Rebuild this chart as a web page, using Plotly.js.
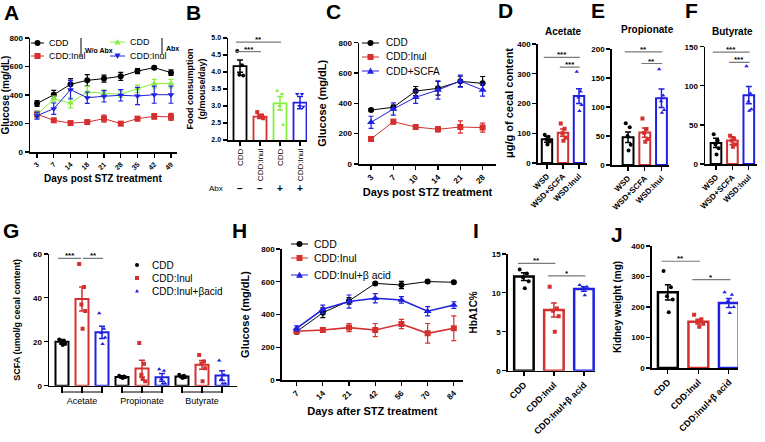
<!DOCTYPE html>
<html><head><meta charset="utf-8">
<script src="https://cdn.plot.ly/plotly-3.0.1.min.js"></script>
<style>html,body{margin:0;padding:0;background:#fff}#c{width:765px;height:442px}</style>
</head><body><div id="c"></div>
<script>
// ---------- DATA ----------
// Panel A
const daysA = ['3','7','14','18','21','28','35','42','49'];
const A_cdd = [340,402,475,503,515,531,568,592,557];
const A_cdd_e = [20,30,40,40,25,28,18,10,20];
const A_inul = [265,222,203,210,234,199,234,250,246];
const A_inul_e = [22,15,10,10,25,12,15,20,25];
const A_cddAbx = [262,372,344,421,412,405,444,480,480];
const A_cddAbx_e = [25,20,35,40,25,22,25,30,30];
const A_inulAbx = [255,304,437,381,391,398,393,402,402];
const A_inulAbx_e = [25,40,65,40,40,40,60,60,60];
// Panel B
const B_groups = ['CDD','CDD:Inul','CDD','CDD:Inul'];
const B_abx = ['−','−','+','+'];
const B_mean = [4.17,2.69,3.08,3.10];
const B_err = [0.18,0.06,0.20,0.18];
const B_pts = [[4.62,4.2,3.92,3.9],[2.82,2.72,2.68,2.64],[3.45,3.35,3.0,2.45],[3.35,3.35,3.0,2.98]];
// Panel C
const daysC = ['3','7','10','14','21','28'];
const C_cdd = [356,374,481,499,545,532];
const C_cdd_e = [8,15,30,45,35,45];
const C_inul = [165,279,244,229,244,240];
const C_inul_e = [8,15,12,18,40,30];
const C_scfa = [275,363,440,488,547,488];
const C_scfa_e = [40,40,40,60,40,40];
// Panels D, E, F
const DEF_groups = ['WSD','WSD+SCFA','WSD:Inul'];
const D_mean = [80,102,225], D_err = [10,12,25];
const D_pts = [[95,88,80,72,62],[133,115,100,85,75],[307,240,220,195,175]];
const E_mean = [48,56,115], E_err = [9,8,16];
const E_pts = [[72,65,50,35,25],[80,62,55,45,40],[165,120,110,95,90]];
const F_mean = [27,30,88], F_err = [6,5,11];
const F_pts = [[38,30,25,20,12],[36,32,30,25,22],[125,90,80,70,68]];
// Panel G
const G_acids = ['Acetate','Propionate','Butyrate'];
const G_series = ['CDD','CDD:Inul','CDD:Inul+βacid'];
const G_mean = [[20,4,4.2],[39.5,7.8,9.5],[24.3,3.8,4.6]];
const G_err = [[1,0.5,0.4],[5.5,3.8,2],[2.8,1.8,2.2]];
const G_pts = [
  [[21,20.5,19.5,19,18.5],[4.5,4.2,4,3.8,3.5],[5,4.5,4,3.8,3.5]],
  [[55.5,45,37,34,26],[19.5,10,5,2,3],[14,11,10,8,2]],
  [[33,26,24,22,19],[7.5,6.8,3,1,1],[11.5,5,3,1,1]]
];
// Panel H
const daysH = ['7','14','21','42','56','70','84'];
const H_cdd = [295,411,483,590,580,601,597];
const H_cdd_e = [12,30,20,8,22,8,6];
const H_inul = [298,305,320,305,342,285,316];
const H_inul_e = [15,10,25,40,28,60,75];
const H_beta = [315,432,479,499,489,420,458];
const H_beta_e = [15,25,40,28,20,28,20];
// Panels I, J
const IJ_groups = ['CDD','CDD:Inul','CDD:Inul+β acid'];
const I_mean = [12.1,7.8,10.5], I_err = [0.5,0.9,0.3];
const I_pts = [[13,12.5,12,11.5,10.6],[10.8,8,7.7,7,5],[11,10.8,10.6,10.5,9.7]];
const J_mean = [248,152,213], J_err = [25,8,15];
const J_pts = [[318,265,235,225,183],[175,160,152,145,135],[248,240,220,200,180]];

// ---------- STYLE ----------
const W = 765, H = 442;
const FONT = 'Liberation Sans, Arial, sans-serif';
const BLK = '#000000', RED = '#d3302f', BLU = '#2020e0', GRN = '#84f03c';
const JIT = [-0.14, 0.1, -0.03, 0.16, 0.03];
const bold = (s) => ({family: FONT, size: s, color: '#000', weight: 700});
const reg = (s) => ({family: FONT, size: s, color: '#000'});

function base(extra) {
  return Object.assign({
    showline: true, linecolor: '#000', linewidth: 1.5, ticks: 'outside', ticklen: 4,
    tickwidth: 1.2, tickcolor: '#000', showgrid: false, zeroline: false,
    tickfont: bold(8), fixedrange: true, automargin: false
  }, extra);
}
function ax(p0, p1, range, anchor, extra) {
  return base(Object.assign({domain: [p0 / W, p1 / W], range: range, anchor: anchor}, extra));
}
function ay(top, bot, range, anchor, extra) {
  return base(Object.assign({domain: [1 - bot / H, 1 - top / H], range: range, anchor: anchor}, extra));
}

const traces = [];
const shapes = [];
const annotations = [];

function lineTrace(x, y, e, color, symbol, size, name, xa, ya, lw) {
  traces.push({
    type: 'scatter', mode: 'lines+markers', x: x, y: y, name: name,
    xaxis: xa, yaxis: ya, showlegend: false,
    line: {color: color, width: lw || 1},
    marker: {color: color, symbol: symbol, size: size},
    error_y: {type: 'data', array: e, color: color, thickness: 1.2, width: 2.5}
  });
}
function barSet(means, errs, pts, colors, symbols, xa, ya, lw, names) {
  means.forEach((m, i) => {
    traces.push({
      type: 'bar', x: [i], y: [m], width: 0.65, xaxis: xa, yaxis: ya, showlegend: false,
      name: names[i],
      marker: {color: 'rgba(255,255,255,0)', line: {color: colors[i], width: lw}},
      error_y: {type: 'data', array: [errs[i]], color: colors[i], thickness: 1.5, width: 3}
    });
    traces.push({
      type: 'scatter', mode: 'markers', x: pts[i].map((v, k) => i + JIT[k % JIT.length]),
      y: pts[i], xaxis: xa, yaxis: ya, showlegend: false, name: names[i],
      marker: {color: colors[i], symbol: symbols[i], size: 4}
    });
  });
}
function sig(xa, ya, a, b, y, label) {
  shapes.push({type: 'line', xref: xa, yref: ya, x0: a - 0.2, x1: b + 0.05, y0: y, y1: y,
    line: {color: '#7a7a7a', width: 1.2}});
  annotations.push({xref: xa, yref: ya, x: (a + b) / 2 - 0.07, y: y, text: label, showarrow: false,
    yanchor: 'bottom', yshift: -4, font: bold(8)});
}
function letter(t, x, yc) {
  annotations.push({xref: 'paper', yref: 'paper', x: x / W, y: 1 - yc / H, xanchor: 'left',
    yanchor: 'middle', text: t, showarrow: false, font: bold(21)});
}
function ptext(t, x, yc, size, anchor, wt, angle) {
  annotations.push({xref: 'paper', yref: 'paper', x: x / W, y: 1 - yc / H, xanchor: anchor || 'center',
    yanchor: 'middle', text: t, showarrow: false, textangle: angle || 0,
    font: {family: FONT, size: size, color: '#000', weight: wt || 400}});
}
// legend entry (key glyph + label), drawn in page pixels
const px = (v) => v / W, py = (v) => 1 - v / H;
function legItem(x0, x1, y, color, symbol, size, label, tx, fs) {
  if (x1 > x0) shapes.push({type: 'line', xref: 'paper', yref: 'paper', x0: px(x0), x1: px(x1),
    y0: py(y), y1: py(y), line: {color: color, width: 1}});
  const cx = (x0 + x1) / 2, r = size / 2;
  if (symbol === 'circle') {
    shapes.push({type: 'circle', xref: 'paper', yref: 'paper', x0: px(cx - r), x1: px(cx + r),
      y0: py(y - r), y1: py(y + r), fillcolor: color, line: {width: 0}});
  } else if (symbol === 'square') {
    shapes.push({type: 'rect', xref: 'paper', yref: 'paper', x0: px(cx - r), x1: px(cx + r),
      y0: py(y - r), y1: py(y + r), fillcolor: color, line: {width: 0}});
  } else {
    const d = symbol === 'triangle-down' ? -1 : 1;
    const path = 'M' + px(cx - r) + ',' + py(y + d * r * 0.8) + ' L' + px(cx + r) + ',' + py(y + d * r * 0.8) +
      ' L' + px(cx) + ',' + py(y - d * r) + ' Z';
    shapes.push({type: 'path', xref: 'paper', yref: 'paper', path: path, fillcolor: color, line: {width: 0}});
  }
  ptext(label, tx, y, fs, 'left');
}

// ---------- PANEL A ----------
lineTrace(daysA, A_cdd, A_cdd_e, BLK, 'circle', 6, 'CDD', 'x', 'y');
lineTrace(daysA, A_inul, A_inul_e, RED, 'square', 6, 'CDD:Inul', 'x', 'y');
lineTrace(daysA, A_cddAbx, A_cddAbx_e, GRN, 'triangle-up', 6, 'CDD (Abx)', 'x', 'y');
lineTrace(daysA, A_inulAbx, A_inulAbx_e, BLU, 'triangle-down', 6, 'CDD:Inul (Abx)', 'x', 'y');
legItem(31, 44, 43, BLK, 'circle', 6, 'CDD', 47, 9);
legItem(31, 44, 56, RED, 'square', 6, 'CDD:Inul', 47, 9);
legItem(110, 125, 42, GRN, 'triangle-up', 6, 'CDD', 128, 9);
legItem(110, 125, 56, BLU, 'triangle-down', 6, 'CDD:Inul', 128, 9);

// ---------- PANEL B ----------
barSet(B_mean, B_err, B_pts, [BLK, RED, GRN, BLU], ['circle', 'square', 'triangle-up', 'triangle-down'], 'x2', 'y2', 1.8, B_groups);
sig('x2', 'y2', 0, 1, 4.6, '***');
sig('x2', 'y2', 0, 2, 4.88, '**');

// ---------- PANEL C ----------
lineTrace(daysC, C_cdd, C_cdd_e, BLK, 'circle', 6, 'CDD', 'x3', 'y3');
lineTrace(daysC, C_inul, C_inul_e, RED, 'square', 6, 'CDD:Inul', 'x3', 'y3');
lineTrace(daysC, C_scfa, C_scfa_e, BLU, 'triangle-up', 7, 'CDD+SCFA', 'x3', 'y3');
legItem(362, 379, 43, BLK, 'circle', 6, 'CDD', 384, 10);
legItem(362, 379, 57, RED, 'square', 6, 'CDD:Inul', 384, 10);
legItem(362, 379, 71, BLU, 'triangle-up', 7, 'CDD+SCFA', 384, 10);

// ---------- PANELS D, E, F ----------
const defC = [BLK, RED, BLU], defS = ['circle', 'square', 'triangle-up'];
barSet(D_mean, D_err, D_pts, defC, defS, 'x4', 'y4', 2, DEF_groups);
barSet(E_mean, E_err, E_pts, defC, defS, 'x5', 'y5', 2, DEF_groups);
barSet(F_mean, F_err, F_pts, defC, defS, 'x6', 'y6', 2, DEF_groups);
sig('x4', 'y4', 0, 2, 355, '***'); sig('x4', 'y4', 1, 2, 322, '***');
sig('x5', 'y5', 0, 2, 195, '**'); sig('x5', 'y5', 1, 2, 175, '**');
sig('x6', 'y6', 0, 2, 143, '***'); sig('x6', 'y6', 1, 2, 130, '***');

// ---------- PANEL G ----------
const gColors = [BLK, RED, BLU], gSym = ['circle', 'square', 'triangle-up'];
G_series.forEach((s, si) => {
  const pos = G_acids.map((a, ai) => ai * 3 + si);
  traces.push({
    type: 'bar', x: pos, y: G_mean[si], width: 0.65, xaxis: 'x7', yaxis: 'y7', showlegend: false, name: s,
    marker: {color: 'rgba(255,255,255,0)', line: {color: gColors[si], width: 2}},
    error_y: {type: 'data', array: G_err[si], color: gColors[si], thickness: 1.5, width: 3}
  });
  const xs = [], ys = [];
  G_pts[si].forEach((arr, ai) => arr.forEach((v, k) => { xs.push(pos[ai] + JIT[k % JIT.length]); ys.push(v); }));
  traces.push({
    type: 'scatter', mode: 'markers', x: xs, y: ys, name: s, xaxis: 'x7', yaxis: 'y7', showlegend: false,
    marker: {color: gColors[si], symbol: gSym[si], size: 4}
  });
  legItem(137, 137, [265, 278, 291][si], gColors[si], gSym[si], 4, s, 150, 10);
});
sig('x7', 'y7', 0, 0.9, 58, '***');
sig('x7', 'y7', 1.25, 2, 58, '**');
G_acids.forEach((a, ai) => {
  shapes.push({type: 'line', xref: 'x7', yref: 'paper', x0: ai * 3, x1: ai * 3 + 2,
    y0: 1 - 392 / H, y1: 1 - 392 / H, line: {color: '#000', width: 1.2}});
});

// ---------- PANEL H ----------
lineTrace(daysH, H_cdd, H_cdd_e, BLK, 'circle', 6, 'CDD', 'x8', 'y8', 1);
lineTrace(daysH, H_inul, H_inul_e, RED, 'square', 6, 'CDD:Inul', 'x8', 'y8', 1.6);
lineTrace(daysH, H_beta, H_beta_e, BLU, 'triangle-up', 7, 'CDD:Inul+β acid', 'x8', 'y8', 1.6);
legItem(291, 308, 244, BLK, 'circle', 6, 'CDD', 312, 10.5);
legItem(291, 308, 258, RED, 'square', 6, 'CDD:Inul', 312, 10.5);
legItem(291, 308, 275, BLU, 'triangle-up', 7, 'CDD:Inul+β acid', 312, 10.5);

// ---------- PANELS I, J ----------
barSet(I_mean, I_err, I_pts, defC, defS, 'x9', 'y9', 2.5, IJ_groups);
barSet(J_mean, J_err, J_pts, defC, defS, 'x10', 'y10', 2.5, IJ_groups);
sig('x9', 'y9', 0, 1, 13.8, '**'); sig('x9', 'y9', 1, 2, 12.2, '*');
sig('x10', 'y10', 0, 1, 350, '**'); sig('x10', 'y10', 1, 2, 290, '*');

// ---------- TEXT ----------
letter('A', 2, 12); letter('B', 184, 12); letter('C', 324, 11); letter('D', 496, 10);
letter('E', 589, 10); letter('F', 683, 10); letter('G', 1, 230); letter('H', 230, 230);
letter('I', 471, 230); letter('J', 609, 234);
ptext('Acetate', 563, 32, 10, 'center', 700); ptext('Propionate', 647, 30, 10, 'center', 700);
ptext('Butyrate', 732, 32, 10, 'center', 700);
ptext('Days post STZ treatment', 103, 178, 10, 'center', 700);
ptext('μg/g of cecal content', 509, 103, 11, 'center', 700, -90);
// A legend brackets
shapes.push({type: 'line', xref: 'paper', yref: 'paper', x0: px(81), x1: px(81), y0: py(38), y1: py(57), line: {color: '#000', width: 1}});
shapes.push({type: 'line', xref: 'paper', yref: 'paper', x0: px(162), x1: px(162), y0: py(38), y1: py(55), line: {color: '#000', width: 1}});
ptext('W/o Abx', 83, 50, 7, 'left', 700); ptext('Abx', 164, 48, 7, 'left', 700);
// B Abx row
ptext('Abx', 225, 188, 8, 'right', 400);
B_abx.forEach((s, i) => annotations.push({xref: 'x2', yref: 'paper', x: i, y: py(188),
  text: s, showarrow: false, yanchor: 'middle', font: bold(10)}));

const cat = (arr) => ({tickvals: arr.map((_, i) => i), ticktext: arr});

const layout = {
  width: W, height: H, margin: {l: 0, r: 0, t: 0, b: 0}, paper_bgcolor: '#fff', plot_bgcolor: 'rgba(0,0,0,0)',
  font: {family: FONT, color: '#000'}, barmode: 'overlay', showlegend: false,
  xaxis: ax(30, 177, [-0.42, 8.36], 'y', {type: 'category', tickangle: -45, tickfont: bold(7)}),
  yaxis: ay(38, 152, [0, 800], 'x', {dtick: 200, title: {text: 'Glucose (mg/dL)', font: bold(10)}}),
  xaxis2: ax(228, 307, [-0.6, 3.35], 'y2', Object.assign(cat(B_groups), {tickangle: -90, tickfont: reg(8)})),
  yaxis2: ay(38, 140, [2, 5], 'x2', {dtick: 0.5, tickformat: '.1f', tickfont: bold(7),
    title: {text: 'Food consumption<br>(g/mouse/day)', font: bold(9), standoff: 4}}),
  xaxis3: ax(359, 496, [-0.54, 5.6], 'y3', {type: 'category', tickangle: -45, tickfont: bold(8),
    title: {text: 'Days post STZ treatment', font: bold(11), standoff: 2}}),
  yaxis3: ay(42.7, 164, [0, 800], 'x3', {dtick: 200, title: {text: 'Glucose (mg/dL)', font: bold(11)}}),
  xaxis4: ax(537.7, 587, [-0.58, 2.5], 'y4', Object.assign(cat(DEF_groups), {tickangle: -45})),
  yaxis4: ay(44, 163, [0, 400], 'x4', {dtick: 100}),
  xaxis5: ax(611.7, 669, [-0.98, 2.45], 'y5', Object.assign(cat(DEF_groups), {tickangle: -45})),
  yaxis5: ay(49, 165, [0, 200], 'x5', {dtick: 50}),
  xaxis6: ax(705, 757, [-0.67, 2.5], 'y6', Object.assign(cat(DEF_groups), {tickangle: -45})),
  yaxis6: ay(46.7, 164, [0, 150], 'x6', {dtick: 50}),
  xaxis7: ax(49, 237, [-0.65, 8.75], 'y7', {tickvals: [0,1,2,3,4,5,6,7,8],
    ticktext: ['', G_acids[0], '', '', G_acids[1], '', '', G_acids[2], ''], ticklen: 6,
    tickfont: reg(9)}),
  yaxis7: ay(254, 385.7, [0, 60], 'x7', {dtick: 20, title: {text: 'SCFA (umol/g cecal content)', font: bold(9)}}),
  xaxis8: ax(281.7, 463, [-0.57, 6.35], 'y8', {type: 'category', tickangle: -45, tickfont: bold(8),
    title: {text: 'Days after STZ treatment', font: bold(11), standoff: 6}}),
  yaxis8: ay(249, 380, [0, 800], 'x8', {dtick: 200, title: {text: 'Glucose (mg/dL)', font: bold(11)}}),
  xaxis9: ax(507.7, 595, [-0.54, 2.37], 'y9', Object.assign(cat(IJ_groups), {tickangle: -45, tickfont: bold(9)})),
  yaxis9: ay(254, 370.7, [0, 15], 'x9', {dtick: 5, title: {text: 'HbA1C%', font: bold(10)}}),
  xaxis10: ax(651.7, 738, [-0.53, 2.3], 'y10', Object.assign(cat(IJ_groups), {tickangle: -45, tickfont: bold(9)})),
  yaxis10: ay(246, 368, [0, 400], 'x10', {dtick: 100, title: {text: 'Kidney weight (mg)', font: bold(10)}}),
  shapes: shapes, annotations: annotations
};
Plotly.newPlot('c', traces, layout, {staticPlot: true, displayModeBar: false});
</script></body></html>
